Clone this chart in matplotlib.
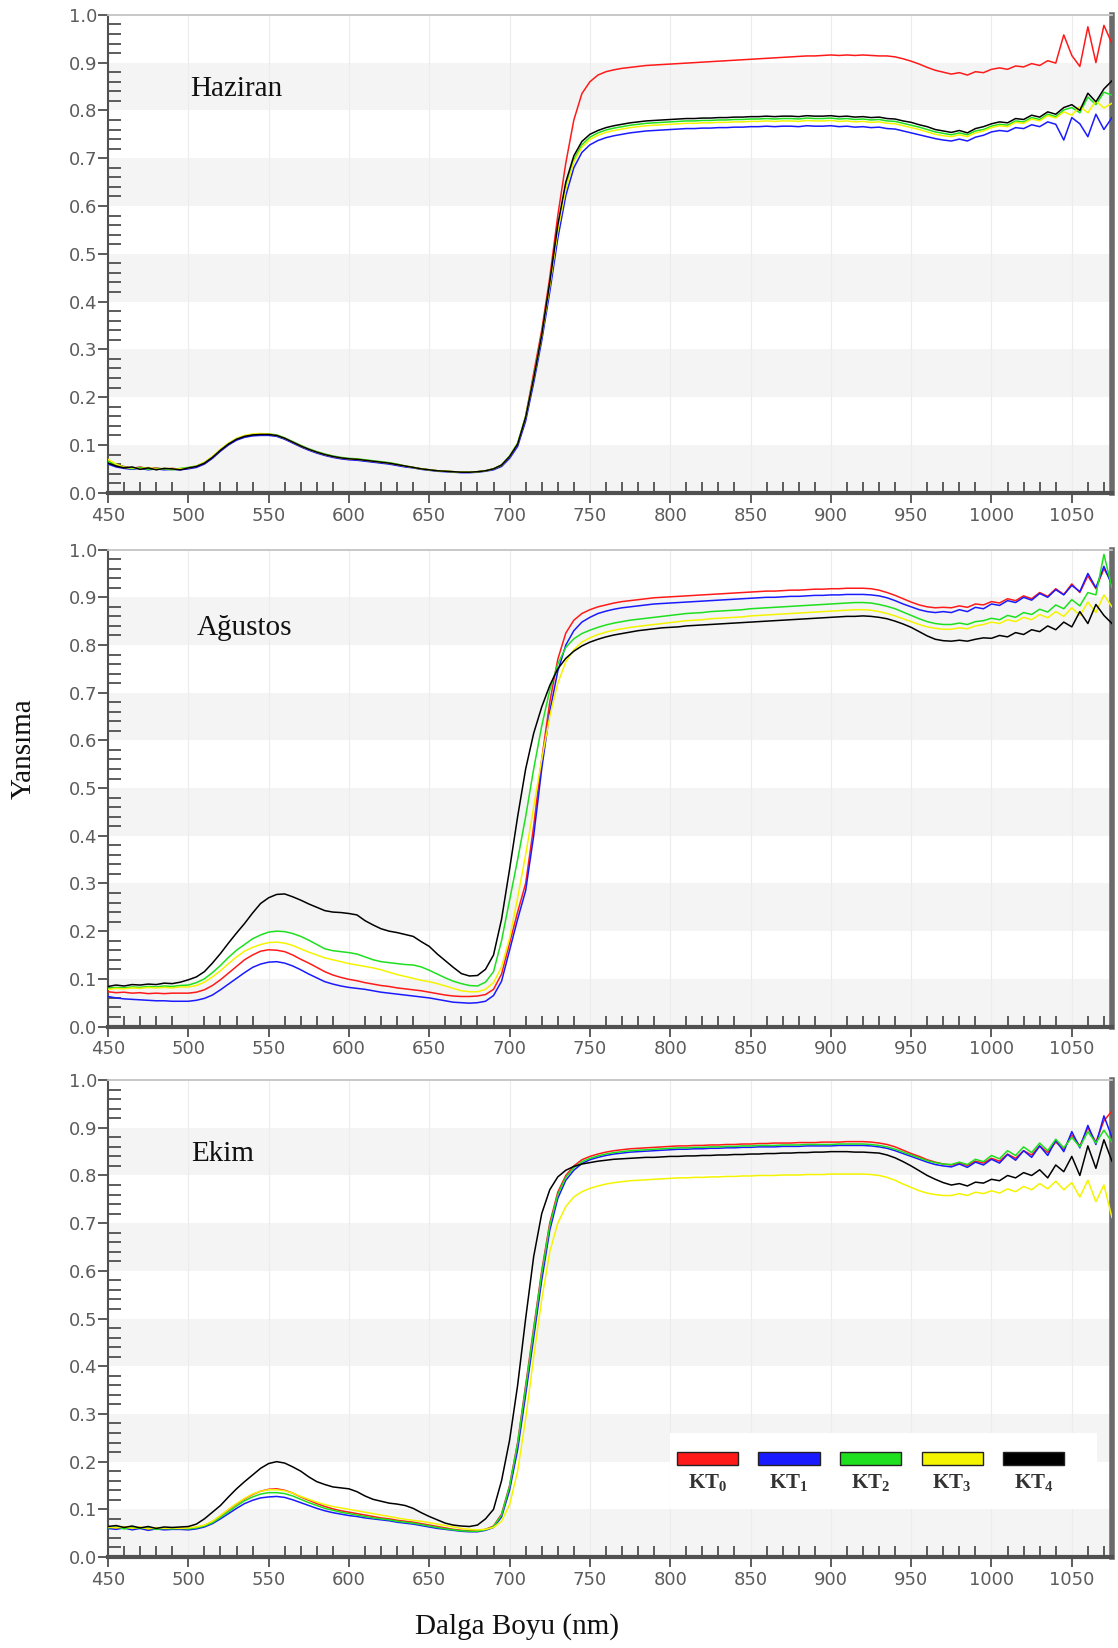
import matplotlib
matplotlib.use("Agg")
import matplotlib.pyplot as plt
from matplotlib.patches import Rectangle

plt.rcParams["mathtext.fontset"] = "custom"
plt.rcParams["mathtext.rm"] = "Liberation Serif"
plt.rcParams["mathtext.bf"] = "Liberation Serif:bold"

# Wavelength grid (nm), 5 nm steps from 450 to 1075
wavelength = list(range(450, 1076, 5))

series_names = ["KT0", "KT1", "KT2", "KT3", "KT4"]
legend_labels = [r"KT$_{\mathbf{0}}$", r"KT$_{\mathbf{1}}$", r"KT$_{\mathbf{2}}$",
                 r"KT$_{\mathbf{3}}$", r"KT$_{\mathbf{4}}$"]
series_colors = ["#ff1a1a", "#1a1aff", "#1ee01e", "#f4f400", "#000000"]
panel_titles = ["Haziran", "Ağustos", "Ekim"]

# ---------------- Haziran ----------------
haziran_kt0 = [
    0.068, 0.058, 0.055, 0.051, 0.054, 0.050, 0.052, 0.049, 0.051, 0.049,
    0.051, 0.054, 0.061, 0.073, 0.088, 0.101, 0.111, 0.117, 0.120, 0.121,
    0.121, 0.119, 0.113, 0.105, 0.097, 0.090, 0.084, 0.079, 0.075, 0.072,
    0.070, 0.069, 0.067, 0.065, 0.063, 0.061, 0.058, 0.055, 0.053, 0.050,
    0.048, 0.046, 0.045, 0.044, 0.043, 0.043, 0.044, 0.046, 0.050, 0.058,
    0.075, 0.100, 0.160, 0.250, 0.340, 0.450, 0.580, 0.690, 0.780, 0.835,
    0.860, 0.874, 0.881, 0.885, 0.888, 0.890, 0.892, 0.894, 0.895, 0.896,
    0.897, 0.898, 0.899, 0.900, 0.901, 0.902, 0.903, 0.904, 0.905, 0.906,
    0.907, 0.908, 0.909, 0.910, 0.911, 0.912, 0.913, 0.914, 0.914, 0.915,
    0.916, 0.915, 0.916, 0.915, 0.916, 0.915, 0.914, 0.914, 0.912, 0.908,
    0.903, 0.897, 0.890, 0.884, 0.880, 0.876, 0.879, 0.874, 0.881, 0.879,
    0.886, 0.889, 0.886, 0.893, 0.891, 0.898, 0.894, 0.904, 0.899, 0.958,
    0.915, 0.892, 0.975, 0.900, 0.978, 0.940,
]
haziran_kt1 = [
    0.060, 0.054, 0.051, 0.049, 0.051, 0.048, 0.050, 0.048, 0.049, 0.048,
    0.050, 0.053, 0.060, 0.072, 0.087, 0.100, 0.110, 0.116, 0.119, 0.120,
    0.120, 0.118, 0.112, 0.104, 0.096, 0.089, 0.083, 0.078, 0.074, 0.071,
    0.069, 0.068, 0.066, 0.064, 0.062, 0.060, 0.057, 0.054, 0.052, 0.049,
    0.047, 0.045, 0.044, 0.043, 0.042, 0.042, 0.043, 0.045, 0.048, 0.055,
    0.072, 0.097, 0.150, 0.230, 0.318, 0.420, 0.532, 0.622, 0.680, 0.712,
    0.728, 0.737, 0.743, 0.747, 0.750, 0.753, 0.755, 0.757, 0.758, 0.759,
    0.760, 0.761, 0.762, 0.762, 0.763, 0.763, 0.764, 0.764, 0.765, 0.765,
    0.766, 0.766, 0.767, 0.766, 0.767, 0.767, 0.766, 0.768, 0.767, 0.767,
    0.768, 0.766, 0.767, 0.765, 0.766, 0.764, 0.765, 0.762, 0.761, 0.757,
    0.753, 0.749, 0.745, 0.741, 0.738, 0.736, 0.740, 0.736, 0.744, 0.748,
    0.755, 0.758, 0.756, 0.764, 0.762, 0.770, 0.766, 0.776, 0.771, 0.738,
    0.785, 0.772, 0.745, 0.792, 0.760, 0.785,
]
haziran_kt2 = [
    0.066, 0.059, 0.054, 0.050, 0.053, 0.049, 0.051, 0.050, 0.048, 0.051,
    0.053, 0.056, 0.063, 0.075, 0.090, 0.103, 0.113, 0.119, 0.122, 0.123,
    0.123, 0.121, 0.115, 0.107, 0.099, 0.092, 0.086, 0.081, 0.077, 0.074,
    0.072, 0.071, 0.069, 0.067, 0.065, 0.063, 0.060, 0.056, 0.053, 0.050,
    0.048, 0.046, 0.045, 0.044, 0.043, 0.043, 0.044, 0.046, 0.050, 0.058,
    0.077, 0.104, 0.160, 0.242, 0.330, 0.437, 0.552, 0.640, 0.697, 0.728,
    0.744, 0.753, 0.759, 0.763, 0.766, 0.769, 0.771, 0.773, 0.774, 0.775,
    0.776, 0.777, 0.778, 0.778, 0.779, 0.779, 0.780, 0.780, 0.781, 0.781,
    0.782, 0.782, 0.783, 0.782, 0.783, 0.783, 0.782, 0.784, 0.783, 0.783,
    0.784, 0.782, 0.783, 0.781, 0.782, 0.780, 0.781, 0.778, 0.777, 0.773,
    0.769, 0.765, 0.760, 0.755, 0.752, 0.749, 0.753, 0.749, 0.757, 0.760,
    0.767, 0.771, 0.769, 0.778, 0.776, 0.785, 0.781, 0.792, 0.787, 0.801,
    0.806, 0.795, 0.828, 0.812, 0.838, 0.832,
]
haziran_kt3 = [
    0.070, 0.060, 0.053, 0.052, 0.050, 0.053, 0.049, 0.051, 0.050, 0.050,
    0.052, 0.056, 0.064, 0.076, 0.091, 0.104, 0.114, 0.120, 0.123, 0.124,
    0.123, 0.120, 0.114, 0.106, 0.098, 0.091, 0.085, 0.080, 0.076, 0.073,
    0.071, 0.070, 0.068, 0.066, 0.064, 0.062, 0.059, 0.056, 0.053, 0.050,
    0.048, 0.046, 0.045, 0.044, 0.043, 0.043, 0.044, 0.046, 0.050, 0.058,
    0.076, 0.103, 0.158, 0.240, 0.328, 0.433, 0.548, 0.636, 0.692, 0.723,
    0.739, 0.748, 0.754, 0.758, 0.761, 0.764, 0.766, 0.768, 0.769, 0.770,
    0.771, 0.772, 0.773, 0.773, 0.774, 0.774, 0.775, 0.775, 0.776, 0.776,
    0.777, 0.777, 0.778, 0.777, 0.778, 0.778, 0.777, 0.779, 0.778, 0.778,
    0.779, 0.777, 0.778, 0.776, 0.777, 0.775, 0.776, 0.773, 0.772, 0.768,
    0.764, 0.760, 0.755, 0.750, 0.747, 0.745, 0.749, 0.745, 0.753, 0.757,
    0.764, 0.768, 0.766, 0.775, 0.773, 0.782, 0.778, 0.789, 0.784, 0.797,
    0.790, 0.808, 0.795, 0.820, 0.805, 0.815,
]
haziran_kt4 = [
    0.062, 0.056, 0.052, 0.054, 0.049, 0.052, 0.048, 0.051, 0.050, 0.048,
    0.052, 0.055, 0.062, 0.074, 0.089, 0.102, 0.112, 0.118, 0.121, 0.122,
    0.122, 0.120, 0.114, 0.106, 0.098, 0.091, 0.085, 0.080, 0.076, 0.073,
    0.071, 0.070, 0.068, 0.066, 0.064, 0.062, 0.059, 0.056, 0.053, 0.050,
    0.048, 0.046, 0.045, 0.044, 0.043, 0.043, 0.044, 0.046, 0.050, 0.058,
    0.076, 0.102, 0.158, 0.240, 0.330, 0.440, 0.560, 0.650, 0.705, 0.735,
    0.750, 0.758, 0.764, 0.768, 0.771, 0.774, 0.776, 0.778, 0.779, 0.780,
    0.781, 0.782, 0.783, 0.783, 0.784, 0.784, 0.785, 0.785, 0.786, 0.786,
    0.787, 0.787, 0.788, 0.787, 0.788, 0.788, 0.787, 0.789, 0.788, 0.788,
    0.789, 0.787, 0.788, 0.786, 0.787, 0.785, 0.786, 0.783, 0.782, 0.778,
    0.775, 0.770, 0.766, 0.760, 0.757, 0.754, 0.758, 0.753, 0.762, 0.766,
    0.772, 0.776, 0.774, 0.783, 0.781, 0.790, 0.786, 0.797, 0.792, 0.806,
    0.812, 0.800, 0.836, 0.818, 0.845, 0.862,
]

# ---------------- Ağustos ----------------
agustos_kt0 = [
    0.073, 0.071, 0.072, 0.070, 0.071, 0.069, 0.070, 0.069, 0.070, 0.070,
    0.070, 0.072, 0.077, 0.086, 0.098, 0.112, 0.126, 0.140, 0.150, 0.158,
    0.161, 0.160, 0.157, 0.150, 0.141, 0.133, 0.124, 0.115, 0.108, 0.103,
    0.099, 0.096, 0.092, 0.089, 0.086, 0.084, 0.081, 0.079, 0.077, 0.075,
    0.072, 0.069, 0.066, 0.064, 0.063, 0.063, 0.064, 0.067, 0.078, 0.110,
    0.175, 0.240, 0.300, 0.420, 0.560, 0.680, 0.770, 0.825, 0.852, 0.866,
    0.874, 0.880, 0.884, 0.888, 0.891, 0.893, 0.895, 0.897, 0.899, 0.900,
    0.901, 0.902, 0.903, 0.904, 0.905, 0.906, 0.907, 0.908, 0.909, 0.910,
    0.911, 0.912, 0.913, 0.913, 0.914, 0.915, 0.915, 0.916, 0.917, 0.917,
    0.918, 0.918, 0.919, 0.919, 0.919, 0.918, 0.915, 0.910, 0.904, 0.897,
    0.890, 0.884, 0.880, 0.878, 0.879, 0.878, 0.882, 0.879, 0.886, 0.884,
    0.891, 0.888, 0.897, 0.893, 0.903, 0.897, 0.910, 0.902, 0.918, 0.906,
    0.928, 0.910, 0.945, 0.918, 0.960, 0.930,
]
agustos_kt1 = [
    0.063, 0.060, 0.058, 0.057, 0.056, 0.055, 0.054, 0.054, 0.053, 0.053,
    0.053, 0.055, 0.059, 0.066, 0.077, 0.089, 0.101, 0.113, 0.124, 0.131,
    0.135, 0.136, 0.133, 0.127, 0.119, 0.110, 0.102, 0.094, 0.089, 0.085,
    0.082, 0.080, 0.078, 0.075, 0.072, 0.070, 0.068, 0.066, 0.064, 0.062,
    0.060, 0.057, 0.054, 0.051, 0.050, 0.049, 0.050, 0.053, 0.065, 0.095,
    0.160, 0.225, 0.285, 0.400, 0.540, 0.660, 0.745, 0.800, 0.830, 0.848,
    0.858, 0.866, 0.871, 0.875, 0.878, 0.880, 0.882, 0.884, 0.886, 0.887,
    0.888, 0.889, 0.890, 0.891, 0.892, 0.893, 0.894, 0.895, 0.896, 0.897,
    0.898, 0.899, 0.900, 0.900, 0.901, 0.902, 0.902, 0.903, 0.904, 0.904,
    0.905, 0.905, 0.906, 0.906, 0.906, 0.905, 0.903, 0.899, 0.893, 0.886,
    0.880, 0.874, 0.870, 0.868, 0.870, 0.868, 0.874, 0.870, 0.879, 0.876,
    0.886, 0.883, 0.893, 0.889, 0.900, 0.894, 0.908, 0.900, 0.916, 0.905,
    0.925, 0.912, 0.950, 0.920, 0.965, 0.925,
]
agustos_kt2 = [
    0.080, 0.082, 0.081, 0.083, 0.082, 0.084, 0.083, 0.085, 0.084, 0.086,
    0.087, 0.092, 0.100, 0.113, 0.128, 0.145, 0.160, 0.172, 0.184, 0.192,
    0.198, 0.200, 0.199, 0.195, 0.189, 0.181, 0.172, 0.163, 0.159, 0.157,
    0.155, 0.152, 0.146, 0.140, 0.136, 0.134, 0.132, 0.130, 0.129, 0.125,
    0.118, 0.110, 0.102, 0.095, 0.090, 0.086, 0.085, 0.093, 0.115, 0.180,
    0.265, 0.350, 0.440, 0.540, 0.630, 0.705, 0.760, 0.795, 0.813, 0.824,
    0.831, 0.837, 0.842, 0.846, 0.849, 0.852, 0.854, 0.856, 0.858, 0.860,
    0.862, 0.864, 0.866, 0.867, 0.868, 0.870, 0.871, 0.872, 0.873, 0.874,
    0.876, 0.877, 0.878, 0.879, 0.880, 0.881, 0.882, 0.883, 0.884, 0.885,
    0.886, 0.887, 0.888, 0.889, 0.889, 0.888, 0.885, 0.881, 0.876, 0.869,
    0.862, 0.855, 0.849, 0.845, 0.843, 0.843, 0.846, 0.843, 0.849, 0.851,
    0.856, 0.853, 0.862, 0.858, 0.868, 0.864, 0.875, 0.869, 0.884, 0.876,
    0.895, 0.882, 0.910, 0.905, 0.990, 0.920,
]
agustos_kt3 = [
    0.078, 0.080, 0.079, 0.081, 0.080, 0.082, 0.081, 0.082, 0.081, 0.083,
    0.083, 0.086, 0.093, 0.104, 0.117, 0.132, 0.146, 0.158, 0.166, 0.172,
    0.176, 0.177, 0.175, 0.170, 0.163, 0.156, 0.150, 0.144, 0.140, 0.136,
    0.132, 0.129, 0.126, 0.123, 0.119, 0.114, 0.109, 0.105, 0.101, 0.097,
    0.094, 0.090, 0.085, 0.080, 0.075, 0.073, 0.073, 0.078, 0.092, 0.125,
    0.185, 0.270, 0.360, 0.460, 0.560, 0.650, 0.720, 0.765, 0.790, 0.806,
    0.815, 0.822, 0.827, 0.831, 0.834, 0.837, 0.839, 0.841, 0.843, 0.845,
    0.847, 0.849, 0.851, 0.852, 0.853, 0.855, 0.856, 0.857, 0.858, 0.859,
    0.861, 0.862, 0.863, 0.864, 0.865, 0.866, 0.867, 0.868, 0.869, 0.870,
    0.871, 0.872, 0.873, 0.874, 0.874, 0.873, 0.870, 0.866, 0.861, 0.855,
    0.849, 0.843, 0.838, 0.835, 0.833, 0.833, 0.836, 0.834, 0.840, 0.843,
    0.848, 0.845, 0.853, 0.849, 0.858, 0.853, 0.864, 0.857, 0.870, 0.860,
    0.878, 0.862, 0.890, 0.868, 0.905, 0.880,
]
agustos_kt4 = [
    0.084, 0.087, 0.085, 0.088, 0.087, 0.089, 0.088, 0.091, 0.090, 0.093,
    0.098, 0.104, 0.115, 0.133, 0.153, 0.175, 0.196, 0.216, 0.238, 0.258,
    0.270, 0.277, 0.278, 0.272, 0.265, 0.257, 0.250, 0.243, 0.240, 0.239,
    0.237, 0.234, 0.222, 0.213, 0.205, 0.200, 0.197, 0.193, 0.189, 0.178,
    0.168, 0.152, 0.138, 0.124, 0.111, 0.106, 0.107, 0.120, 0.150, 0.225,
    0.330, 0.440, 0.540, 0.615, 0.670, 0.715, 0.750, 0.772, 0.787, 0.798,
    0.806, 0.812, 0.817, 0.821, 0.824, 0.827, 0.830, 0.832, 0.834, 0.836,
    0.837, 0.838, 0.840, 0.841, 0.842, 0.843, 0.844, 0.845, 0.846, 0.847,
    0.848, 0.849, 0.850, 0.851, 0.852, 0.853, 0.854, 0.855, 0.856, 0.857,
    0.858, 0.859, 0.860, 0.860, 0.861, 0.860, 0.858, 0.855, 0.850, 0.844,
    0.837, 0.828, 0.819, 0.812, 0.809, 0.808, 0.810, 0.808, 0.812, 0.815,
    0.814, 0.820, 0.817, 0.826, 0.822, 0.832, 0.828, 0.840, 0.832, 0.848,
    0.838, 0.870, 0.845, 0.885, 0.862, 0.845,
]

# ---------------- Ekim ----------------
ekim_kt0 = [
    0.062, 0.060, 0.063, 0.059, 0.062, 0.058, 0.061, 0.059, 0.060, 0.059,
    0.060, 0.062, 0.066, 0.074, 0.086, 0.099, 0.111, 0.122, 0.131, 0.138,
    0.142, 0.143, 0.140, 0.134, 0.126, 0.119, 0.112, 0.106, 0.101, 0.097,
    0.094, 0.091, 0.088, 0.085, 0.082, 0.080, 0.077, 0.075, 0.073, 0.070,
    0.067, 0.064, 0.061, 0.058, 0.056, 0.055, 0.055, 0.058, 0.065, 0.090,
    0.150, 0.240, 0.360, 0.480, 0.600, 0.700, 0.765, 0.800, 0.820, 0.833,
    0.840, 0.845, 0.849, 0.852, 0.854, 0.856, 0.857, 0.858, 0.859, 0.860,
    0.861, 0.862, 0.862, 0.863, 0.863, 0.864, 0.864, 0.865, 0.865, 0.866,
    0.866, 0.867, 0.867, 0.868, 0.868, 0.868, 0.869, 0.869, 0.869, 0.870,
    0.870, 0.870, 0.871, 0.871, 0.871, 0.870, 0.868, 0.865, 0.860, 0.853,
    0.846, 0.840, 0.833, 0.828, 0.824, 0.822, 0.826, 0.821, 0.830, 0.826,
    0.836, 0.830, 0.845, 0.836, 0.852, 0.843, 0.862, 0.848, 0.870, 0.855,
    0.885, 0.862, 0.900, 0.870, 0.915, 0.935,
]
ekim_kt1 = [
    0.060, 0.058, 0.061, 0.057, 0.060, 0.056, 0.059, 0.057, 0.058, 0.058,
    0.057, 0.059, 0.063, 0.070, 0.080, 0.091, 0.102, 0.112, 0.119, 0.124,
    0.126, 0.127, 0.125, 0.120, 0.114, 0.108, 0.102, 0.097, 0.093, 0.090,
    0.087, 0.085, 0.082, 0.080, 0.078, 0.076, 0.073, 0.071, 0.069, 0.066,
    0.063, 0.060, 0.058, 0.056, 0.054, 0.053, 0.053, 0.056, 0.062, 0.084,
    0.140, 0.225, 0.340, 0.460, 0.580, 0.685, 0.752, 0.790, 0.811, 0.825,
    0.833, 0.838, 0.842, 0.845, 0.847, 0.849, 0.850, 0.851, 0.852, 0.853,
    0.854, 0.855, 0.855, 0.856, 0.856, 0.857, 0.857, 0.858, 0.858, 0.859,
    0.859, 0.860, 0.860, 0.860, 0.861, 0.861, 0.861, 0.862, 0.862, 0.862,
    0.862, 0.863, 0.863, 0.863, 0.863, 0.862, 0.860, 0.857, 0.852, 0.846,
    0.840, 0.834, 0.828, 0.823, 0.820, 0.818, 0.824, 0.817, 0.828, 0.822,
    0.834, 0.826, 0.844, 0.832, 0.852, 0.838, 0.862, 0.842, 0.874, 0.850,
    0.892, 0.858, 0.905, 0.865, 0.925, 0.880,
]
ekim_kt2 = [
    0.061, 0.063, 0.059, 0.062, 0.060, 0.061, 0.058, 0.060, 0.059, 0.060,
    0.059, 0.061, 0.065, 0.072, 0.083, 0.095, 0.107, 0.118, 0.126, 0.132,
    0.135, 0.135, 0.133, 0.128, 0.121, 0.114, 0.108, 0.102, 0.098, 0.094,
    0.091, 0.088, 0.085, 0.082, 0.080, 0.078, 0.075, 0.073, 0.071, 0.068,
    0.065, 0.062, 0.059, 0.057, 0.055, 0.054, 0.054, 0.057, 0.064, 0.088,
    0.148, 0.238, 0.355, 0.475, 0.595, 0.695, 0.760, 0.796, 0.816, 0.829,
    0.836, 0.841, 0.845, 0.848, 0.850, 0.852, 0.853, 0.854, 0.855, 0.856,
    0.857, 0.858, 0.858, 0.859, 0.859, 0.860, 0.860, 0.861, 0.861, 0.862,
    0.862, 0.863, 0.863, 0.863, 0.864, 0.864, 0.864, 0.865, 0.865, 0.865,
    0.865, 0.866, 0.866, 0.866, 0.866, 0.865, 0.863, 0.860, 0.855, 0.849,
    0.843, 0.837, 0.831, 0.827, 0.824, 0.823, 0.828, 0.823, 0.834, 0.829,
    0.842, 0.835, 0.852, 0.842, 0.860, 0.848, 0.868, 0.852, 0.876, 0.858,
    0.880, 0.860, 0.892, 0.868, 0.895, 0.870,
]
ekim_kt3 = [
    0.063, 0.061, 0.064, 0.060, 0.063, 0.059, 0.062, 0.060, 0.061, 0.060,
    0.061, 0.063, 0.067, 0.075, 0.087, 0.100, 0.112, 0.123, 0.132, 0.138,
    0.141, 0.141, 0.139, 0.134, 0.127, 0.121, 0.115, 0.110, 0.106, 0.103,
    0.100, 0.097, 0.094, 0.091, 0.088, 0.085, 0.082, 0.079, 0.077, 0.075,
    0.072, 0.069, 0.066, 0.063, 0.060, 0.058, 0.057, 0.058, 0.062, 0.075,
    0.110, 0.180, 0.290, 0.420, 0.540, 0.640, 0.700, 0.735, 0.755, 0.766,
    0.773, 0.778, 0.782, 0.785, 0.787, 0.789, 0.790, 0.791, 0.792, 0.793,
    0.794, 0.795, 0.795, 0.796, 0.796, 0.797, 0.797, 0.798, 0.798, 0.799,
    0.799, 0.800, 0.800, 0.800, 0.801, 0.801, 0.801, 0.802, 0.802, 0.802,
    0.803, 0.803, 0.803, 0.803, 0.803, 0.802, 0.800, 0.796, 0.790, 0.782,
    0.775, 0.768, 0.763, 0.760, 0.758, 0.758, 0.762, 0.758, 0.765, 0.762,
    0.768, 0.763, 0.772, 0.766, 0.777, 0.770, 0.783, 0.772, 0.788, 0.770,
    0.785, 0.755, 0.790, 0.745, 0.780, 0.712,
]
ekim_kt4 = [
    0.064, 0.066, 0.062, 0.065, 0.061, 0.064, 0.060, 0.063, 0.062, 0.063,
    0.064, 0.069, 0.080, 0.094, 0.108, 0.126, 0.143, 0.158, 0.172, 0.186,
    0.196, 0.200, 0.197, 0.189, 0.180, 0.168, 0.158, 0.152, 0.147, 0.145,
    0.143, 0.137, 0.128, 0.121, 0.117, 0.113, 0.111, 0.108, 0.102, 0.093,
    0.085, 0.078, 0.071, 0.067, 0.065, 0.064, 0.067, 0.080, 0.100, 0.160,
    0.245, 0.360, 0.500, 0.630, 0.720, 0.770, 0.797, 0.811, 0.819, 0.824,
    0.827, 0.830, 0.832, 0.834, 0.835, 0.836, 0.837, 0.838, 0.838, 0.839,
    0.840, 0.840, 0.841, 0.841, 0.842, 0.842, 0.843, 0.843, 0.844, 0.844,
    0.845, 0.845, 0.846, 0.846, 0.847, 0.847, 0.848, 0.848, 0.849, 0.849,
    0.850, 0.850, 0.850, 0.849, 0.849, 0.848, 0.847, 0.843, 0.837, 0.829,
    0.820, 0.810, 0.800, 0.792, 0.785, 0.780, 0.783, 0.778, 0.786, 0.784,
    0.792, 0.789, 0.800, 0.795, 0.806, 0.800, 0.812, 0.795, 0.822, 0.808,
    0.840, 0.800, 0.862, 0.815, 0.875, 0.830,
]

panels = [
    [haziran_kt0, haziran_kt1, haziran_kt2, haziran_kt3, haziran_kt4],
    [agustos_kt0, agustos_kt1, agustos_kt2, agustos_kt3, agustos_kt4],
    [ekim_kt0, ekim_kt1, ekim_kt2, ekim_kt3, ekim_kt4],
]

x_major = [450, 500, 550, 600, 650, 700, 750, 800, 850, 900, 950, 1000, 1050]
x_minor = list(range(460, 1075, 10))
y_major = [0.0, 0.1, 0.2, 0.3, 0.4, 0.5, 0.6, 0.7, 0.8, 0.9, 1.0]
y_labels = ["0.0", "0.1", "0.2", "0.3", "0.4", "0.5", "0.6", "0.7", "0.8", "0.9", "1.0"]
y_minor = [v / 100 for v in range(2, 100, 2)]
shaded_bands = [(0.0, 0.1), (0.2, 0.3), (0.4, 0.5), (0.6, 0.7), (0.8, 0.9)]

fig = plt.figure(figsize=(11.18, 16.48), dpi=100)
fig.patch.set_facecolor("white")

axes_boxes = [
    [0.0966, 0.7010, 0.898, 0.2900],
    [0.0966, 0.3771, 0.898, 0.2894],
    [0.0966, 0.0552, 0.898, 0.2894],
]
title_pos = [(501, 0.845), (505, 0.835), (502, 0.845)]

tick_color = "#4f4f4f"
label_color = "#5c5c5c"

for k, (box, curves) in enumerate(zip(axes_boxes, panels)):
    ax = fig.add_axes(box)
    ax.set_xlim(450, 1075)
    ax.set_ylim(0.0, 1.0)

    for lo, hi in shaded_bands:
        ax.axhspan(lo, hi, color="#f4f4f4", lw=0, zorder=0)
    for xv in x_major[1:]:
        ax.axvline(xv, color="#ececec", lw=0.8, zorder=0.5)

    if k == 2:
        ax.add_patch(Rectangle((0.56, 0.10), 0.425, 0.16, transform=ax.transAxes,
                               facecolor="white", edgecolor="none", zorder=0.8))

    for vals, col in zip(curves, series_colors):
        ax.plot(wavelength, vals, color=col, lw=1.1, zorder=3)

    ax.text(title_pos[k][0], title_pos[k][1], panel_titles[k], fontsize=21,
            family="Liberation Serif", color="#111111", va="center", ha="left", zorder=4)

    ax.set_xticks(x_major)
    ax.set_xticks(x_minor, minor=True)
    ax.set_yticks(y_major)
    ax.set_yticklabels(y_labels)
    ax.set_yticks(y_minor, minor=True)

    ax.tick_params(axis="x", which="major", direction="out", length=7, width=1.3,
                   color=tick_color, labelsize=13, labelcolor=label_color, pad=3)
    ax.tick_params(axis="x", which="minor", direction="in", length=8, width=1.3,
                   color=tick_color)
    ax.tick_params(axis="y", which="major", direction="out", length=7, width=1.3,
                   color=tick_color, labelsize=13, labelcolor=label_color, pad=1)
    ax.tick_params(axis="y", which="minor", direction="in", length=9, width=1.3,
                   color=tick_color)

    ax.spines["bottom"].set_linewidth(3.0)
    ax.spines["bottom"].set_color("#505050")
    ax.spines["left"].set_linewidth(1.5)
    ax.spines["left"].set_color("#505050")
    ax.spines["top"].set_linewidth(1.3)
    ax.spines["top"].set_color("#c4c4c4")
    ax.spines["right"].set_linewidth(4.0)
    ax.spines["right"].set_color("#6a6a6a")

    if k == 2:
        x0, step, w, h, y0 = 0.5667, 0.0812, 0.0608, 0.027, 0.193
        for i, (col, lab) in enumerate(zip(series_colors, legend_labels)):
            ax.add_patch(Rectangle((x0 + i * step, y0), w, h, transform=ax.transAxes,
                                   facecolor=col, edgecolor="#222222", lw=1.0, zorder=5))
            ax.text(x0 + i * step + w / 2, 0.155, lab, transform=ax.transAxes,
                    ha="center", va="center", fontsize=15, family="Liberation Serif",
                    fontweight="bold", color="#333333", zorder=5)

fig.text(0.021, 0.546, "Yansıma", rotation=90, fontsize=21, family="Liberation Serif",
         ha="center", va="center", color="#111111")
fig.text(0.4624, 0.0133, "Dalga Boyu (nm)", fontsize=21, family="Liberation Serif",
         ha="center", va="center", color="#111111")

fig.savefig("out.png", dpi=100, facecolor="white")
